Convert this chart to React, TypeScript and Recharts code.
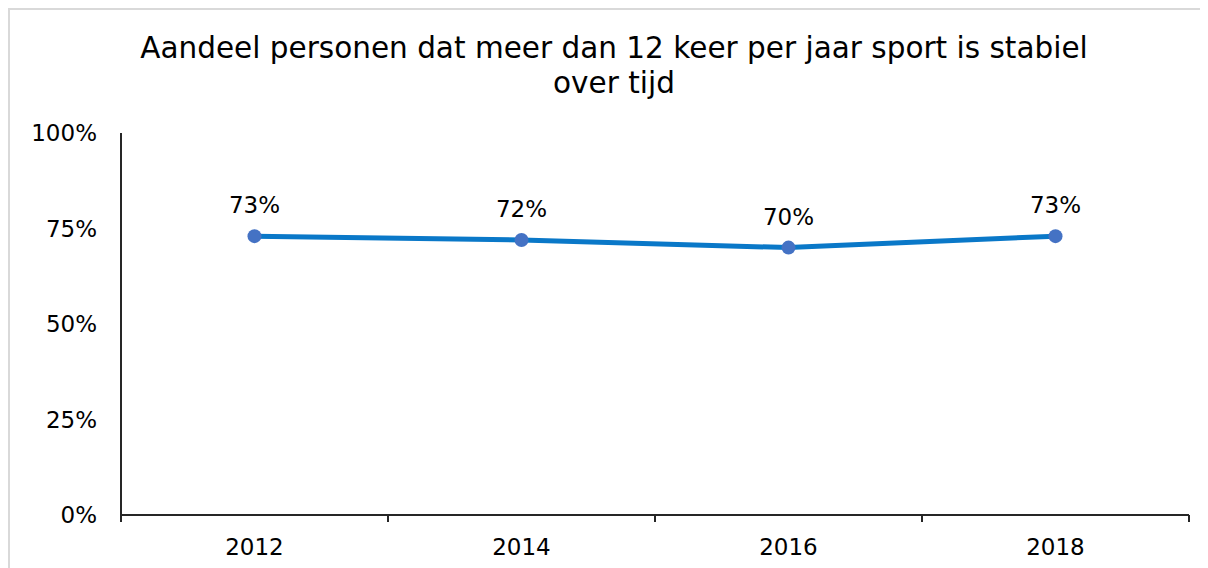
import { LabelList, Line, LineChart, XAxis, YAxis } from "recharts"

const years = ["2012", "2014", "2016", "2018"]
const shares = [0.73, 0.72, 0.7, 0.73]
const yTicks = [0, 0.25, 0.5, 0.75, 1]
const xTicks = [0, 0.5, 1, 1.5, 2, 2.5, 3, 3.5, 4]

const FONT = "'DejaVu Sans', Verdana, sans-serif"
const AXIS_COLOR = "#262626"

const data = years.map((year, index) => ({
  pos: index + 0.5,
  year,
  share: shares[index],
}))

function percent(value: number) {
  return `${Math.round(value * 100)}%`
}

function YearTick(props: any) {
  const { x, y, payload } = props
  const value = payload.value as number
  if (Number.isInteger(value)) {
    return <line x1={x} x2={x} y1={y - 7} y2={y} stroke={AXIS_COLOR} strokeWidth={2} />
  }
  const label = years[Math.floor(value)]
  return (
    <text x={x} y={y + 25} dy="0.35em" textAnchor="middle" fill="#000" fontSize={23} fontFamily={FONT}>
      {label}
    </text>
  )
}

function App() {
  return (
    <div
      style={{
        position: "relative",
        width: 1212,
        height: 572,
        border: "2px solid #d9d9d9",
        boxSizing: "border-box",
        background: "#fff",
      }}
    >
      <div
        style={{
          position: "absolute",
          top: 21,
          left: 0,
          width: 1208,
          textAlign: "center",
          fontFamily: FONT,
          fontSize: 29.5,
          lineHeight: "35px",
          color: "#000",
        }}
      >
        Aandeel personen dat meer dan 12 keer per jaar sport is stabiel
        <br />
        over tijd
      </div>
      <LineChart
        width={1198}
        height={558}
        data={data}
        margin={{ top: 123, right: 19, left: 0, bottom: 0 }}
        style={{ position: "absolute", top: 0, left: 0 }}
      >
        <XAxis
          dataKey="pos"
          type="number"
          domain={[0, 4]}
          ticks={xTicks}
          interval={0}
          height={53}
          tickLine={false}
          tickSize={7}
          tickMargin={0}
          axisLine={{ stroke: AXIS_COLOR, strokeWidth: 2 }}
          tick={<YearTick />}
        />
        <YAxis
          type="number"
          domain={[0, 1]}
          ticks={yTicks}
          interval={0}
          width={111}
          tickLine={false}
          tickSize={0}
          tickMargin={24}
          axisLine={{ stroke: AXIS_COLOR, strokeWidth: 2 }}
          tickFormatter={percent}
          tick={{ fill: "#000", fontSize: 23, fontFamily: FONT }}
        />
        <Line
          dataKey="share"
          type="linear"
          stroke="#0a78c8"
          strokeWidth={5}
          dot={{ r: 7, fill: "#4472c4", stroke: "none" }}
          activeDot={false}
          isAnimationActive={false}
        >
          <LabelList
            dataKey="share"
            position="top"
            offset={23}
            formatter={(v: any) => percent(Number(v))}
            style={{ fill: "#000", fontSize: 23, fontFamily: FONT }}
          />
        </Line>
      </LineChart>
    </div>
  )
}

export default App
